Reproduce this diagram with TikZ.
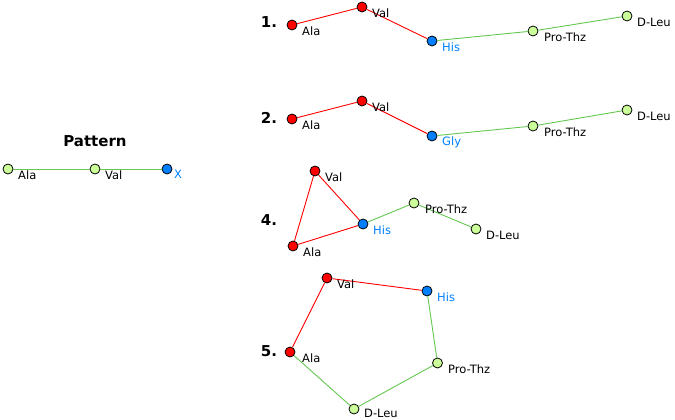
\documentclass[tikz,border=0pt]{standalone}
\usepackage{fontspec}
\setmainfont{DejaVu Sans}
\definecolor{nred}{RGB}{255,0,0}
\definecolor{nblue}{RGB}{0,128,255}
\definecolor{ngreen}{RGB}{204,255,153}
\definecolor{lgreen}{RGB}{100,200,80}
\begin{document}
\begin{tikzpicture}[x=1pt,y=-1pt,
  pt/.style={circle,draw=black,line width=0.8pt,minimum size=10pt,inner sep=0pt},
  rn/.style={pt,fill=nred},
  bn/.style={pt,fill=nblue},
  gn/.style={pt,fill=ngreen},
  lab/.style={anchor=west,inner sep=0pt,font=\fontsize{11.5}{13}\selectfont},
  blab/.style={lab,text=nblue},
  num/.style={font=\bfseries\fontsize{15}{17}\selectfont,inner sep=0pt},
  redl/.style={draw=nred,line width=0.9pt},
  grnl/.style={draw=lgreen,line width=0.9pt}
]
\useasboundingbox (0,0) rectangle (675,420);

% Pattern
\node[num] (ptitle) at (95,141) {Pattern};
\node[gn] (pa) at (8,169) {};
\node[gn] (pv) at (95,169) {};
\node[bn] (px) at (167,169) {};
\draw[grnl] (pa) -- (pv); \draw[grnl] (pv) -- (px);
\node[lab] (pal) at (18,175) {Ala};
\node[lab] (pvl) at (105,175) {Val};
\node[blab] (pxl) at (174,174) {X};

% 1
\node[num] (n1) at (269,22.5) {1.};
\node[rn] (a1) at (292,25) {};
\node[rn] (v1) at (362,7) {};
\node[bn] (h1) at (432,41) {};
\node[gn] (p1) at (533,31) {};
\node[gn] (d1) at (627,16) {};
\draw[redl] (a1) -- (v1); \draw[redl] (v1) -- (h1);
\draw[grnl] (h1) -- (p1); \draw[grnl] (p1) -- (d1);
\node[lab] (a1l) at (302,31) {Ala};
\node[lab] (v1l) at (372,13) {Val};
\node[blab] (h1l) at (442,47) {His};
\node[lab] (p1l) at (544,37) {Pro-Thz};
\node[lab] (d1l) at (637,22) {D-Leu};

% 2
\node[num] (n2) at (269,118) {2.};
\node[rn] (a2) at (292,119) {};
\node[rn] (v2) at (362,101) {};
\node[bn] (h2) at (432,136) {};
\node[gn] (p2) at (533,126) {};
\node[gn] (d2) at (627,110) {};
\draw[redl] (a2) -- (v2); \draw[redl] (v2) -- (h2);
\draw[grnl] (h2) -- (p2); \draw[grnl] (p2) -- (d2);
\node[lab] (a2l) at (302,125) {Ala};
\node[lab] (v2l) at (372,107) {Val};
\node[blab] (h2l) at (442,142) {Gly};
\node[lab] (p2l) at (544,132) {Pro-Thz};
\node[lab] (d2l) at (637,116) {D-Leu};

% 4
\node[num] (n4) at (269,220) {4.};
\node[rn] (v4) at (315,171) {};
\node[bn] (h4) at (363,224) {};
\node[rn] (a4) at (293,246) {};
\node[gn] (p4) at (414,203) {};
\node[gn] (d4) at (476,229) {};
\draw[redl] (v4) -- (a4); \draw[redl] (v4) -- (h4); \draw[redl] (a4) -- (h4);
\draw[grnl] (h4) -- (p4); \draw[grnl] (p4) -- (d4);
\node[lab] (v4l) at (325,177) {Val};
\node[blab] (h4l) at (373,230) {His};
\node[lab] (a4l) at (303,252) {Ala};
\node[lab] (p4l) at (425,209) {Pro-Thz};
\node[lab] (d4l) at (486,235) {D-Leu};

% 5
\node[num] (n5) at (269,351) {5.};
\node[rn] (v5) at (327,278) {};
\node[bn] (h5) at (427,291) {};
\node[rn] (a5) at (290,352) {};
\node[gn] (p5) at (437.5,363) {};
\node[gn] (d5) at (354,409) {};
\draw[redl] (a5) -- (v5); \draw[redl] (v5) -- (h5);
\draw[grnl] (h5) -- (p5); \draw[grnl] (p5) -- (d5); \draw[grnl] (d5) -- (a5);
\node[lab] (v5l) at (337,284) {Val};
\node[blab] (h5l) at (437,297) {His};
\node[lab] (a5l) at (302,358) {Ala};
\node[lab] (p5l) at (448,369) {Pro-Thz};
\node[lab] (d5l) at (364,413.5) {D-Leu};
\end{tikzpicture}
\end{document}
